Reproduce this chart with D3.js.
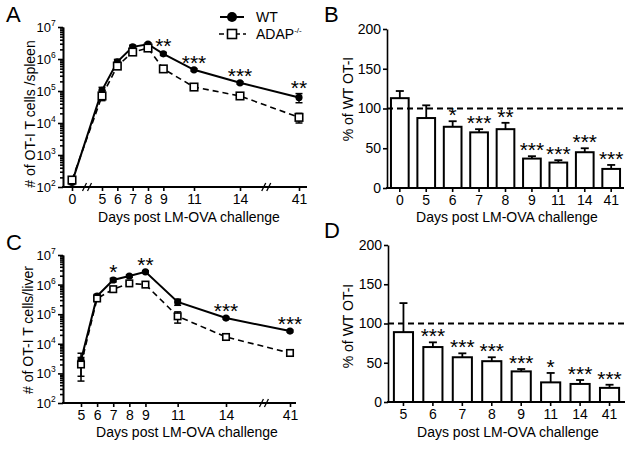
<!DOCTYPE html>
<html>
<head>
<meta charset="utf-8">
<script src="https://cdn.jsdelivr.net/npm/d3@7/dist/d3.min.js"></script>
<style>
body { margin: 0; background: #fff; }
svg { font-family: "Liberation Sans", Arial, sans-serif; }
.axis path, .axis line { stroke: #000; stroke-width: 1.6; }
.axis text { font-size: 14px; fill: #000; font-family: "Liberation Sans", Arial, sans-serif; }
</style>
</head>
<body>
<script>
var spleenDays, spleenWT, spleenWTErr, spleenKO, spleenKOErr, spleenStars;
var liverDays, liverWT, liverWTErr, liverKO, liverKOErr, liverStars;
var spleenPctLabels, spleenPct, spleenPctErr, spleenPctStars;
var liverPctLabels, liverPct, liverPctErr, liverPctStars;
var svg;

// A: OT-I T cells per spleen
spleenDays = [0, 5, 6, 7, 8, 9, 11, 14, 41];
spleenWT = [140, 1.05e5, 8.2e5, 2.4e6, 2.9e6, 1.45e6, 4.6e5, 1.8e5, 6.3e4];
spleenWTErr = [20, 2.5e4, 1.5e5, 3e5, 3e5, 1.5e5, 4e4, 1.5e4, 2e4];
spleenKO = [165, 7e4, 6e5, 1.65e6, 2.2e6, 4.9e5, 1.33e5, 7e4, 1.5e4];
spleenKOErr = [25, 2e4, 8e4, 2e5, 2.5e5, 5e4, 1.5e4, 8e3, 5e3];
spleenStars = ['', '', '', '', '', '**', '***', '***', '**'];

// C: OT-I T cells per liver
liverDays = [5, 6, 7, 8, 9, 11, 14, 41];
liverWT = [2800, 4.1e5, 1.43e6, 1.95e6, 2.7e6, 2.6e5, 7.4e4, 2.7e4];
liverWTErr = [2000, 6e4, 2e5, 2e5, 2e5, 6e4, 5e3, 2e3];
liverKO = [2000, 3.4e5, 7e5, 1.1e6, 1.0e6, 8.5e4, 1.7e4, 4.9e3];
liverKOErr = [1450, 5e4, 8e4, 1.5e5, 1e5, 3.5e4, 2e3, 7e2];
liverStars = ['', '', '*', '', '**', '', '***', '***'];

// B: % of WT, spleen
spleenPctLabels = ['0', '5', '6', '7', '8', '9', '11', '14', '41'];
spleenPct = [113, 88, 77, 70, 74, 37, 32, 45, 24];
spleenPctErr = [9, 16, 7, 4, 8, 3, 3, 5, 5];
spleenPctStars = ['', '', '*', '***', '**', '***', '***', '***', '***'];

// D: % of WT, liver
liverPctLabels = ['5', '6', '7', '8', '9', '11', '14', '41'];
liverPct = [89, 70, 57, 52, 39, 25, 23, 18];
liverPctErr = [37, 6, 5, 5, 3, 12, 5, 4];
liverPctStars = ['', '***', '***', '***', '***', '*', '***', '***'];

svg = d3.select('body').append('svg')
  .attr('width', 633)
  .attr('height', 449);

function zip(days, vals, errs) {
  return days.map(function(d, i) {
    return { day: d, v: vals[i], e: errs[i] };
  });
}

function panelLetter(g, txt, x, y) {
  g.append('text')
    .attr('x', x).attr('y', y)
    .attr('font-size', 22)
    .text(txt);
}

function yTitle(g, txt, x, y) {
  g.append('text')
    .attr('transform', 'translate(' + x + ',' + y + ') rotate(-90)')
    .attr('text-anchor', 'middle')
    .attr('font-size', 14)
    .text(txt);
}

function xTitle(g, txt, x, y) {
  g.append('text')
    .attr('x', x).attr('y', y)
    .attr('text-anchor', 'middle')
    .attr('font-size', 14)
    .text(txt);
}

function drawStars(g, pts, stars, x, y) {
  g.selectAll('.star')
    .data(pts)
  .enter()
    .append('text')
    .attr('class', 'star')
    .attr('x', function(d) { return x(d.day); })
    .attr('y', function(d) { return y(d.v + d.e) + 1; })
    .attr('text-anchor', 'middle')
    .attr('font-size', 21)
    .text(function(d, i) { return stars[i]; });
}

function drawLinePanel(cfg) {
  var g, x, y, majors, minors, wt, ko, line;
  g = svg.append('g');
  x = d3.scaleLinear().domain(cfg.xDomain).range(cfg.xRange);
  y = d3.scaleLog().domain([1e2, 1e7]).range([cfg.bottom, cfg.top]);

  majors = [1e2, 1e3, 1e4, 1e5, 1e6, 1e7];
  minors = [];
  majors.slice(0, -1).forEach(function(m) {
    for (var k = 2; k < 10; k++) minors.push(m * k);
  });

  g.append('g').attr('class', 'axis')
    .attr('transform', 'translate(' + cfg.left + ',0)')
    .call(d3.axisLeft(y).tickValues(minors).tickSize(3).tickSizeOuter(0).tickFormat(''));
  g.append('g').attr('class', 'axis')
    .attr('transform', 'translate(' + cfg.left + ',0)')
    .call(d3.axisLeft(y).tickValues(majors).tickSize(5).tickSizeOuter(0).tickFormat(''))
    .select('.domain').attr('stroke-width', 2);

  // log labels 10^n
  majors.forEach(function(m) {
    g.append('text')
      .attr('x', cfg.left - 12)
      .attr('y', y(m) + 5)
      .attr('text-anchor', 'end')
      .attr('font-size', 13)
      .text('10');
    g.append('text')
      .attr('x', cfg.left - 12)
      .attr('y', y(m) - 1)
      .attr('font-size', 8.5)
      .text(Math.round(Math.log10(m)));
  });

  // x axis
  g.append('line')
    .attr('x1', cfg.left - 1).attr('x2', cfg.right)
    .attr('y1', cfg.bottom).attr('y2', cfg.bottom)
    .attr('stroke', '#000').attr('stroke-width', 2);
  g.append('g').attr('class', 'axis')
    .attr('transform', 'translate(0,' + cfg.bottom + ')')
    .call(d3.axisBottom(x).tickValues(cfg.days).tickSize(4).tickPadding(3).tickFormat(d3.format('d')))
    .select('.domain').remove();

  cfg.breaks.forEach(function(b) {
    var bx = x(b);
    [-2.5, 2.5].forEach(function(o) {
      g.append('line')
        .attr('x1', bx + o - 2).attr('y1', cfg.bottom + 4)
        .attr('x2', bx + o + 2).attr('y2', cfg.bottom - 4)
        .attr('stroke', '#000').attr('stroke-width', 1.3);
    });
  });

  wt = zip(cfg.days, cfg.wt, cfg.wtErr);
  ko = zip(cfg.days, cfg.ko, cfg.koErr);

  line = d3.line()
    .x(function(d) { return x(d.day); })
    .y(function(d) { return y(d.v); });

  g.append('path').datum(ko)
    .attr('d', line).attr('fill', 'none')
    .attr('stroke', '#000').attr('stroke-width', 1.6)
    .attr('stroke-dasharray', '6,4');
  g.append('path').datum(wt)
    .attr('d', line).attr('fill', 'none')
    .attr('stroke', '#000').attr('stroke-width', 2);

  [wt, ko].forEach(function(s) {
    var eb = g.selectAll(null).data(s).enter().append('g');
    eb.append('line')
      .attr('x1', function(d) { return x(d.day); })
      .attr('x2', function(d) { return x(d.day); })
      .attr('y1', function(d) { return y(Math.max(d.v - d.e, 1e2)); })
      .attr('y2', function(d) { return y(d.v + d.e); })
      .attr('stroke', '#000').attr('stroke-width', 1.5);
    eb.selectAll('.cap')
      .data(function(d) { return [d.v - d.e, d.v + d.e].map(function(v) { return { day: d.day, v: v }; }); })
    .enter()
      .append('line')
      .attr('x1', function(d) { return x(d.day) - 3.5; })
      .attr('x2', function(d) { return x(d.day) + 3.5; })
      .attr('y1', function(d) { return y(Math.max(d.v, 1e2)); })
      .attr('y2', function(d) { return y(Math.max(d.v, 1e2)); })
      .attr('stroke', '#000').attr('stroke-width', 1.5);
  });

  g.selectAll('.wt')
    .data(wt)
  .enter()
    .append('circle')
    .attr('cx', function(d) { return x(d.day); })
    .attr('cy', function(d) { return y(d.v); })
    .attr('r', 3.6)
    .attr('fill', '#000');

  g.selectAll('.ko')
    .data(ko)
  .enter()
    .append('rect')
    .attr('x', function(d) { return x(d.day) - cfg.sq / 2; })
    .attr('y', function(d) { return y(d.v) - cfg.sq / 2; })
    .attr('width', cfg.sq).attr('height', cfg.sq)
    .attr('fill', '#fff').attr('stroke', '#000').attr('stroke-width', 1.6);

  drawStars(g, wt, cfg.stars, x, y);

  panelLetter(g, cfg.letter, 6, cfg.top - 5);
  yTitle(g, cfg.yTitle, cfg.yTitleX, cfg.yTitleY);
  xTitle(g, 'Days post LM-OVA challenge', cfg.xTitleX, cfg.xTitleY);
  return g;
}

function drawBarPanel(cfg) {
  var g, x, y, pts, cx;
  g = svg.append('g');
  x = d3.scaleBand().domain(cfg.labels).range([cfg.left, cfg.right])
    .paddingInner(cfg.padIn).paddingOuter(cfg.padOut);
  y = d3.scaleLinear().domain([0, 200]).range([cfg.bottom, cfg.top]);
  cx = function(lbl) { return x(lbl) + x.bandwidth() / 2; };

  pts = cfg.labels.map(function(l, i) {
    return { day: l, v: cfg.values[i], e: cfg.errs[i] };
  });

  g.append('g').attr('class', 'axis')
    .attr('transform', 'translate(' + cfg.left + ',0)')
    .call(d3.axisLeft(y).tickValues([0, 50, 100, 150, 200]).tickSize(4).tickPadding(2).tickSizeOuter(0))
    .select('.domain').attr('stroke-width', 2);

  // error bars (upper only)
  g.selectAll('.err')
    .data(pts)
  .enter()
    .append('line')
    .attr('x1', function(d) { return cx(d.day); })
    .attr('x2', function(d) { return cx(d.day); })
    .attr('y1', function(d) { return y(d.v); })
    .attr('y2', function(d) { return y(d.v + d.e); })
    .attr('stroke', '#000').attr('stroke-width', 1.8);
  g.selectAll('.cap')
    .data(pts)
  .enter()
    .append('line')
    .attr('x1', function(d) { return cx(d.day) - 4; })
    .attr('x2', function(d) { return cx(d.day) + 4; })
    .attr('y1', function(d) { return y(d.v + d.e); })
    .attr('y2', function(d) { return y(d.v + d.e); })
    .attr('stroke', '#000').attr('stroke-width', 1.8);

  g.selectAll('.bar')
    .data(pts)
  .enter()
    .append('rect')
    .attr('x', function(d) { return x(d.day); })
    .attr('y', function(d) { return y(d.v); })
    .attr('width', x.bandwidth())
    .attr('height', function(d) { return cfg.bottom - y(d.v); })
    .attr('fill', '#fff').attr('stroke', '#000').attr('stroke-width', 2);

  g.append('line')
    .attr('x1', cfg.left).attr('x2', cfg.right + 1)
    .attr('y1', y(100)).attr('y2', y(100))
    .attr('stroke', '#000').attr('stroke-width', 2)
    .attr('stroke-dasharray', '6,4');

  g.append('line')
    .attr('x1', cfg.left - 1).attr('x2', cfg.right)
    .attr('y1', cfg.bottom).attr('y2', cfg.bottom)
    .attr('stroke', '#000').attr('stroke-width', 2);
  g.append('g').attr('class', 'axis')
    .attr('transform', 'translate(0,' + cfg.bottom + ')')
    .call(d3.axisBottom(x).tickSize(4).tickPadding(3))
    .select('.domain').remove();

  drawStars(g, pts, cfg.stars, cx, y);

  panelLetter(g, cfg.letter, 324, cfg.top - 7);
  yTitle(g, '% of WT OT-I', cfg.yTitleX, cfg.yTitleY);
  xTitle(g, 'Days post LM-OVA challenge', cfg.xTitleX, cfg.xTitleY);
  return g;
}

drawLinePanel({
  letter: 'A',
  days: spleenDays, wt: spleenWT, wtErr: spleenWTErr,
  ko: spleenKO, koErr: spleenKOErr, stars: spleenStars,
  left: 63, right: 307, top: 27, bottom: 187,
  xDomain: [0, 5, 14, 41], xRange: [72, 102, 240, 299],
  breaks: [2.5, 26], sq: 7.5,
  yTitle: '# of OT-I T cells /spleen', yTitleX: 35, yTitleY: 114,
  xTitleX: 189, xTitleY: 222
});

drawLinePanel({
  letter: 'C',
  days: liverDays, wt: liverWT, wtErr: liverWTErr,
  ko: liverKO, koErr: liverKOErr, stars: liverStars,
  left: 63, right: 296, top: 255, bottom: 403,
  xDomain: [5, 14, 41], xRange: [81, 226, 290],
  breaks: [30], sq: 6.5,
  yTitle: '# of OT-I T cells/liver', yTitleX: 33, yTitleY: 330,
  xTitleX: 187, xTitleY: 437
});

drawBarPanel({
  letter: 'B',
  labels: spleenPctLabels, values: spleenPct, errs: spleenPctErr, stars: spleenPctStars,
  left: 387, right: 624, top: 29, bottom: 188,
  padIn: 0.33, padOut: 0.15,
  yTitleX: 353, yTitleY: 99,
  xTitleX: 507, xTitleY: 222
});

drawBarPanel({
  letter: 'D',
  labels: liverPctLabels, values: liverPct, errs: liverPctErr, stars: liverPctStars,
  left: 388, right: 625, top: 245, bottom: 402,
  padIn: 0.35, padOut: 0.2,
  yTitleX: 353, yTitleY: 326,
  xTitleX: 508, xTitleY: 437
});

// legend (panel A)
var legend = svg.append('g');
legend.append('line')
  .attr('x1', 220).attr('x2', 244).attr('y1', 17).attr('y2', 17)
  .attr('stroke', '#000').attr('stroke-width', 2);
legend.append('circle')
  .attr('cx', 232).attr('cy', 17).attr('r', 5).attr('fill', '#000');
legend.append('text')
  .attr('x', 256).attr('y', 22).attr('font-size', 14).text('WT');
legend.append('line')
  .attr('x1', 219).attr('x2', 246).attr('y1', 34).attr('y2', 34)
  .attr('stroke', '#000').attr('stroke-width', 1.6).attr('stroke-dasharray', '5,3');
legend.append('rect')
  .attr('x', 227.5).attr('y', 29.5).attr('width', 9).attr('height', 9)
  .attr('fill', '#fff').attr('stroke', '#000').attr('stroke-width', 1.6);
var adapText = legend.append('text')
  .attr('x', 256).attr('y', 39).attr('font-size', 14);
adapText.append('tspan').text('ADAP');
adapText.append('tspan').attr('font-size', 8).attr('dy', -6).text('-/-');
</script>
</body>
</html>
